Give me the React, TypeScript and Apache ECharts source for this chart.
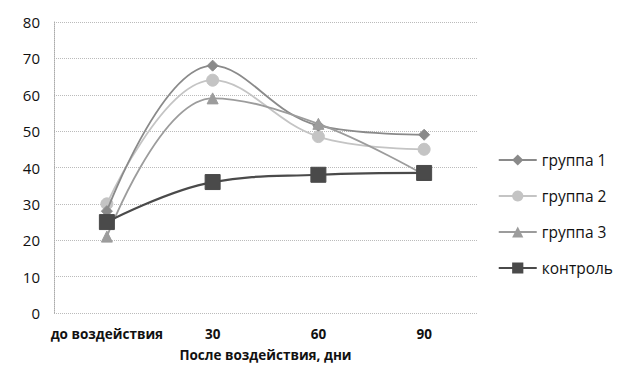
import React, { useEffect, useRef } from "react";
import * as echarts from "echarts";

const categories = ["до воздействия", "30", "60", "90"];
const group1 = [28, 68, 51.5, 49];
const group2 = [30, 64, 48.5, 45];
const group3 = [21, 59, 52, 38];
const control = [25, 36, 38, 38.5];
const yTicks = [0, 10, 20, 30, 40, 50, 60, 70, 80];

const font = "'Open Sans', 'Noto Sans', sans-serif";

export default function App() {
  const ref = useRef<HTMLDivElement>(null);
  useEffect(() => {
    if (!ref.current) return;
    const chart = echarts.init(ref.current, undefined, { renderer: "svg" });
    const mk = (name: string, data: number[], color: string, symbol: string, size: number, width: number, z: number) => ({
      name,
      type: "line",
      data,
      smooth: 0.4,
      symbol,
      symbolSize: size,
      z,
      lineStyle: { color, width },
      itemStyle: { color, borderColor: color },
    });
    chart.setOption({
      animation: false,
      backgroundColor: "#fff",
      grid: { left: 46, right: 136, top: 14, bottom: 47, containLabel: false },
      xAxis: {
        type: "category",
        data: categories,
        boundaryGap: true,
        axisLine: { show: false },
        axisTick: { show: false },
        axisLabel: { interval: 0, fontFamily: font, fontWeight: "bold", fontSize: 13.5, color: "#111", margin: 14 },
        name: "После воздействия, дни",
        nameLocation: "middle",
        nameGap: 35,
        nameTextStyle: { fontFamily: font, fontWeight: "bold", fontSize: 13.5, color: "#111" },
      },
      yAxis: {
        type: "value",
        min: yTicks[0],
        max: yTicks[yTicks.length - 1],
        interval: 10,
        axisLine: { show: true, lineStyle: { color: "#aaa", type: "dotted" } },
        axisTick: { show: false },
        axisLabel: { fontFamily: font, fontSize: 15, color: "#111", margin: 14 },
        splitLine: { lineStyle: { color: "#bbb", type: "dotted" } },
      },
      legend: {
        orient: "vertical",
        right: 0,
        top: 139,
        padding: [5, 0, 5, 0],
        itemGap: 20,
        itemWidth: 38,
        itemHeight: 14,
        textStyle: { fontFamily: font, fontSize: 15.5, color: "#111" },
        data: ["группа 1", "группа 2", "группа 3", "контроль"],
      },
      series: [
        mk("группа 1", group1, "#8a8a8a", "diamond", 11, 1.8, 3),
        mk("группа 2", group2, "#c4c4c4", "circle", 12, 1.8, 2),
        mk("группа 3", group3, "#9c9c9c", "triangle", 11, 1.8, 4),
        mk("контроль", control, "#4a4a4a", "rect", 15, 2.2, 5),
      ],
    });
    return () => chart.dispose();
  }, []);
  return <div ref={ref} style={{ width: 605, height: 359 }} />;
}
